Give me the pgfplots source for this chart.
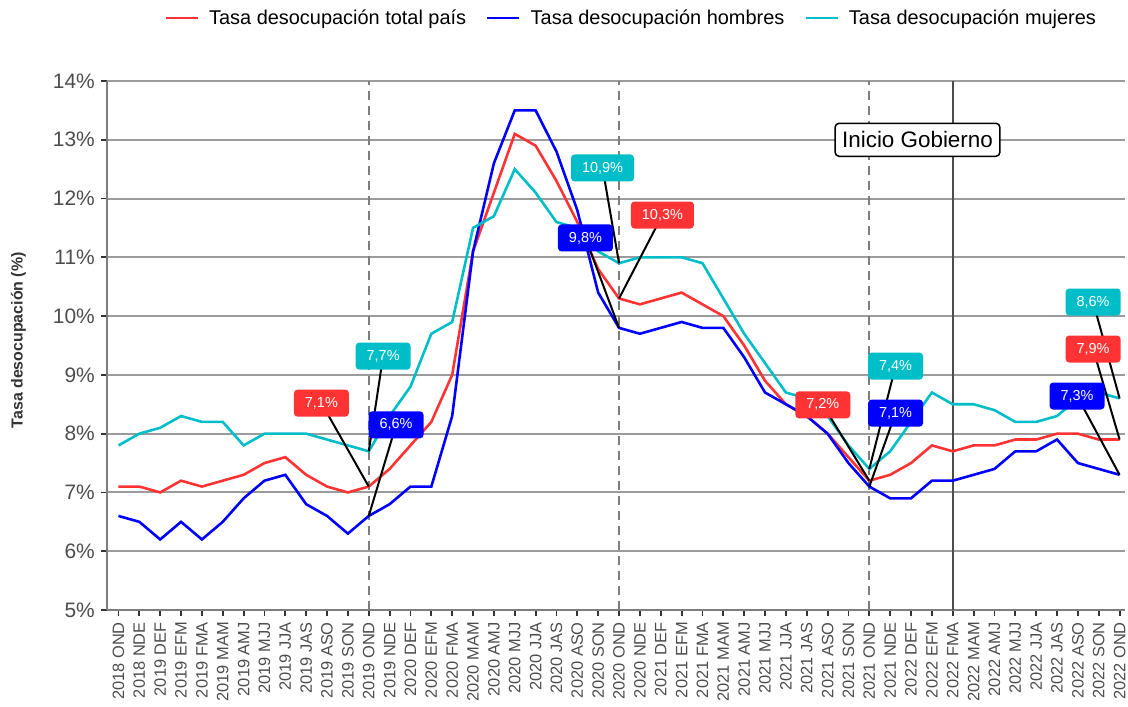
\documentclass[border=0pt]{standalone}
\usepackage{pgfplots}
\pgfplotsset{compat=1.18}
\usepackage{pgfplotstable}
\usepackage{fontspec}
\setmainfont{Liberation Sans}
\definecolor{cred}{RGB}{255,51,51}
\definecolor{cblue}{RGB}{0,0,255}
\definecolor{ccyan}{RGB}{0,190,200}
\definecolor{gridc}{RGB}{155,155,155}
\definecolor{dashc}{RGB}{125,125,125}
\definecolor{tickc}{RGB}{77,77,77}
\pgfplotstableread{
i r h m
0 7.1 6.6 7.8
1 7.1 6.5 8.0
2 7.0 6.2 8.1
3 7.2 6.5 8.3
4 7.1 6.2 8.2
5 7.2 6.5 8.2
6 7.3 6.9 7.8
7 7.5 7.2 8.0
8 7.6 7.3 8.0
9 7.3 6.8 8.0
10 7.1 6.6 7.9
11 7.0 6.3 7.8
12 7.1 6.6 7.7
13 7.4 6.8 8.3
14 7.8 7.1 8.8
15 8.2 7.1 9.7
16 9.0 8.3 9.9
17 11.1 11.1 11.5
18 12.1 12.6 11.7
19 13.1 13.5 12.5
20 12.9 13.5 12.1
21 12.3 12.8 11.6
22 11.6 11.8 11.5
23 10.8 10.4 11.1
24 10.3 9.8 10.9
25 10.2 9.7 11.0
26 10.3 9.8 11.0
27 10.4 9.9 11.0
28 10.2 9.8 10.9
29 10.0 9.8 10.3
30 9.5 9.3 9.7
31 8.9 8.7 9.2
32 8.5 8.5 8.7
33 8.3 8.3 8.6
34 8.0 8.0 8.3
35 7.6 7.5 7.8
36 7.2 7.1 7.4
37 7.3 6.9 7.7
38 7.5 6.9 8.2
39 7.8 7.2 8.7
40 7.7 7.2 8.5
41 7.8 7.3 8.5
42 7.8 7.4 8.4
43 7.9 7.7 8.2
44 7.9 7.7 8.2
45 8.0 7.9 8.3
46 8.0 7.5 8.6
47 7.9 7.4 8.7
48 7.9 7.3 8.6
}\datatable
\begin{document}
\begin{tikzpicture}[
  lab/.style={rounded corners=3.5bp, text=white, inner xsep=11bp, inner ysep=0pt,
    minimum height=27bp, font=\fontsize{14.5}{16}\selectfont},
  seg/.style={black, line width=2pt}]
\begin{axis}[
  at={(107bp,97bp)}, anchor=south west,
  scale only axis, width=1018bp, height=529bp,
  xmin=-0.55, xmax=48.26, ymin=5, ymax=14,
  axis lines*=left,
  axis line style={dashc, line width=1.8pt},
  tick align=outside, major tick length=6bp,
  tick style={black!80, line width=1.8pt},
  ymajorgrids, grid style={gridc, line width=2pt},
  ytick={5,6,...,14},
  yticklabels={5\%,6\%,7\%,8\%,9\%,10\%,11\%,12\%,13\%,14\%},
  yticklabel style={font=\fontsize{21}{24}\selectfont, text=tickc, inner sep=0pt, xshift=-6bp},
  xtick={0,...,48},
  xticklabels={2018 OND,2018 NDE,2019 DEF,2019 EFM,2019 FMA,2019 MAM,2019 AMJ,2019 MJJ,2019 JJA,2019 JAS,2019 ASO,2019 SON,2019 OND,2019 NDE,2020 DEF,2020 EFM,2020 FMA,2020 MAM,2020 AMJ,2020 MJJ,2020 JJA,2020 JAS,2020 ASO,2020 SON,2020 OND,2020 NDE,2021 DEF,2021 EFM,2021 FMA,2021 MAM,2021 AMJ,2021 MJJ,2021 JJA,2021 JAS,2021 ASO,2021 SON,2021 OND,2021 NDE,2022 DEF,2022 EFM,2022 FMA,2022 MAM,2022 AMJ,2022 MJJ,2022 JJA,2022 JAS,2022 ASO,2022 SON,2022 OND},
  xticklabel style={rotate=90, anchor=east, font=\fontsize{16.5}{18}\selectfont, text=tickc, inner sep=0pt, xshift=-6bp},
  ylabel={\textbf{Tasa desocupación (\%)}},
  ylabel style={at={(axis description cs:-0.087,0.51)}, anchor=center, font=\fontsize{16}{18}\selectfont, text=black!80},
  legend columns=3,
  legend style={at={(0.515,1.119)}, anchor=center, draw=none, fill=none,
    font=\fontsize{20}{22}\selectfont,
    /tikz/every odd column/.append style={column sep=8bp},
    /tikz/every even column/.append style={column sep=18bp}},
  legend image code/.code={\draw[#1, line width=2.6pt] (0bp,0bp) -- (32bp,0bp);},
]
\draw[dashc, line width=2.2pt, dash pattern=on 9bp off 6bp] (axis cs:12,5) -- (axis cs:12,14);
\draw[dashc, line width=2.2pt, dash pattern=on 9bp off 6bp] (axis cs:24,5) -- (axis cs:24,14);
\draw[dashc, line width=2.2pt, dash pattern=on 9bp off 6bp] (axis cs:36,5) -- (axis cs:36,14);
\draw[black!70, line width=2.2pt] (axis cs:40,5) -- (axis cs:40,14);
\addplot[cred, line width=2.6pt] table[x=i,y=r]{\datatable};
\addlegendentry{Tasa desocupación total país}
\addplot[cblue, line width=2.6pt] table[x=i,y=h]{\datatable};
\addlegendentry{Tasa desocupación hombres}
\addplot[ccyan, line width=2.6pt] table[x=i,y=m]{\datatable};
\addlegendentry{Tasa desocupación mujeres}
% segments
\draw[seg] (axis cs:9.73,8.52) -- (axis cs:12,7.1);
\draw[seg] (axis cs:13.31,8.15) -- (axis cs:12,6.6);
\draw[seg] (axis cs:12.69,9.32) -- (axis cs:12,7.7);
\draw[seg] (axis cs:23.21,12.52) -- (axis cs:24,10.9);
\draw[seg] (axis cs:26.08,11.72) -- (axis cs:24,10.3);
\draw[seg] (axis cs:22.39,11.33) -- (axis cs:24,9.8);
\draw[seg] (axis cs:33.77,8.49) -- (axis cs:36,7.2);
\draw[seg] (axis cs:37.26,9.15) -- (axis cs:36,7.4);
\draw[seg] (axis cs:37.26,8.35) -- (axis cs:36,7.1);
\draw[seg] (axis cs:46.73,10.24) -- (axis cs:48,8.6);
\draw[seg] (axis cs:46.73,9.44) -- (axis cs:48,7.9);
\draw[seg] (axis cs:45.96,8.64) -- (axis cs:48,7.3);
% labels
\node[lab, fill=cred] at (axis cs:9.73,8.52) {7,1\%};
\node[lab, fill=cblue] at (axis cs:13.31,8.15) {6,6\%};
\node[lab, fill=ccyan] at (axis cs:12.69,9.32) {7,7\%};
\node[lab, fill=ccyan] at (axis cs:23.21,12.52) {10,9\%};
\node[lab, fill=cred] at (axis cs:26.08,11.72) {10,3\%};
\node[lab, fill=cblue] at (axis cs:22.39,11.33) {9,8\%};
\node[lab, fill=cred] at (axis cs:33.77,8.49) {7,2\%};
\node[lab, fill=ccyan] at (axis cs:37.26,9.15) {7,4\%};
\node[lab, fill=cblue] at (axis cs:37.26,8.35) {7,1\%};
\node[lab, fill=ccyan] at (axis cs:46.73,10.24) {8,6\%};
\node[lab, fill=cred] at (axis cs:46.73,9.44) {7,9\%};
\node[lab, fill=cblue] at (axis cs:45.96,8.64) {7,3\%};
\node[draw=black, fill=white, line width=1.5pt, rounded corners=4bp, inner xsep=7bp, minimum height=33bp, font=\fontsize{22.5}{25}\selectfont] at (axis cs:38.31,13.0) {Inicio Gobierno};
\end{axis}
\pgfresetboundingbox
\path[use as bounding box] (0,0) rectangle (1128bp,707bp);
\end{tikzpicture}
\end{document}
